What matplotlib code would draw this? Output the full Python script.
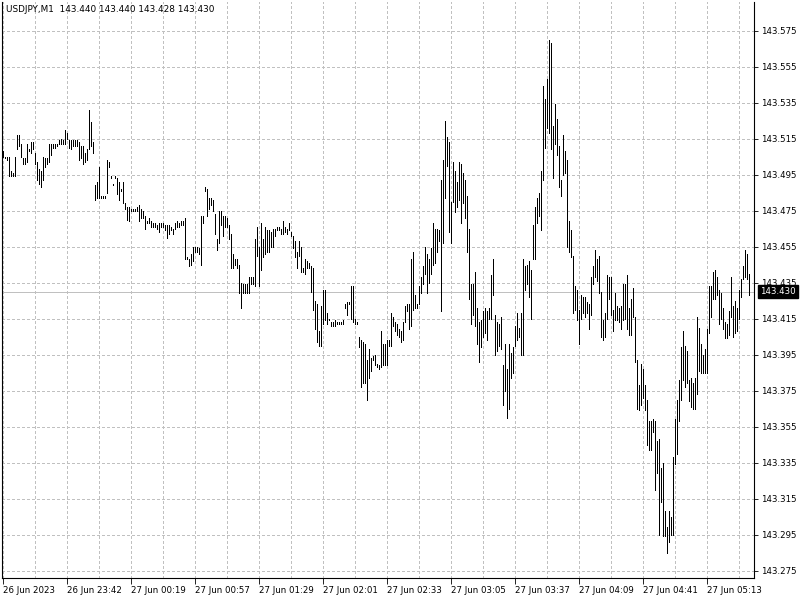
import numpy as np
import matplotlib
matplotlib.use('Agg')
import matplotlib.pyplot as plt
from matplotlib.transforms import blended_transform_factory

# dados do grafico (M1, USDJPY) - precos em pontos acima de 143.000
symbol = 'USDJPY,M1'
last_ohlc = [143.440, 143.440, 143.428, 143.430]
base_price = 143.0

high_points = [
    508, 505, 505, 505, 497, 496, 505, 517, 517, 512,
    504, 504, 512, 509, 513, 513, 507, 502, 498, 497,
    505, 504, 504, 512, 512, 512, 512, 512, 514, 515,
    514, 520, 518, 514, 514, 514, 514, 514, 513, 511,
    511, 507, 509, 531, 524, 513, 489, 491, 499, 483,
    483, 483, 503, 502, 494, 490, 494, 493, 491, 487,
    491, 479, 477, 477, 476, 476, 476, 477, 478, 476,
    475, 472, 469, 471, 469, 468, 468, 467, 468, 468,
    468, 467, 467, 467, 466, 465, 468, 469, 468, 469,
    469, 471, 449, 448, 451, 455, 455, 455, 454, 472,
    472, 488, 487, 482, 482, 481, 473, 459, 475, 475,
    472, 472, 471, 467, 462, 451, 448, 448, 445, 435,
    434, 434, 434, 438, 438, 438, 459, 466, 455, 468,
    459, 466, 464, 464, 463, 465, 465, 466, 466, 465,
    469, 466, 465, 468, 463, 461, 458, 452, 458, 455,
    443, 448, 447, 446, 444, 443, 425, 423, 408, 422,
    431, 431, 418, 415, 413, 413, 414, 413, 413, 413,
    414, 423, 424, 424, 433, 433, 415, 413, 405, 403,
    402, 401, 392, 398, 393, 394, 395, 390, 389, 408,
    401, 401, 403, 403, 418, 416, 413, 412, 409, 408,
    413, 422, 423, 423, 448, 452, 428, 423, 433, 438,
    444, 455, 451, 448, 454, 468, 465, 465, 464, 492,
    503, 525, 516, 513, 480, 502, 497, 491, 502, 501,
    496, 492, 483, 465, 434, 434, 441, 421, 413, 414,
    419, 421, 419, 421, 439, 448, 417, 413, 412, 416,
    389, 401, 387, 401, 396, 399, 411, 418, 410, 418,
    448, 444, 445, 447, 442, 467, 477, 482, 485, 497,
    544, 537, 548, 570, 568, 522, 534, 526, 511, 492,
    517, 508, 503, 469, 464, 450, 433, 431, 420, 428,
    427, 427, 424, 423, 438, 444, 453, 448, 450, 430,
    414, 418, 439, 438, 438, 420, 429, 422, 421, 422,
    434, 434, 439, 421, 426, 432, 416, 392, 378, 390,
    387, 378, 370, 358, 358, 359, 358, 347, 348, 332,
    335, 308, 299, 308, 305, 338, 359, 370, 381, 399,
    408, 400, 397, 381, 382, 379, 382, 416, 410, 401,
    395, 398, 409, 433, 433, 441, 442, 438, 431, 429,
    421, 413, 412, 419, 438, 422, 425, 421, 431, 437,
    444, 453, 451, 440,
]

low_points = [
    505, 504, 503, 494, 494, 494, 494, 509, 511, 505,
    501, 501, 502, 508, 507, 509, 501, 492, 490, 488,
    492, 499, 501, 502, 506, 510, 510, 511, 512, 512,
    512, 512, 515, 510, 509, 511, 511, 511, 503, 504,
    501, 502, 503, 509, 511, 507, 481, 482, 482, 482,
    482, 482, 485, 499, 493, 489, 493, 484, 481, 486,
    479, 476, 470, 469, 475, 475, 475, 475, 469, 471,
    471, 465, 468, 468, 466, 466, 466, 465, 463, 466,
    466, 464, 460, 462, 464, 462, 465, 466, 466, 467,
    467, 448, 448, 444, 445, 447, 452, 452, 451, 445,
    468, 486, 472, 476, 478, 475, 462, 453, 457, 467,
    461, 466, 466, 459, 443, 443, 445, 443, 429, 421,
    429, 429, 429, 429, 434, 434, 433, 450, 433, 442,
    449, 451, 452, 452, 455, 455, 461, 464, 464, 462,
    462, 463, 462, 464, 461, 454, 449, 443, 450, 441,
    441, 440, 443, 443, 430, 420, 409, 402, 400, 400,
    412, 414, 412, 414, 411, 411, 411, 412, 412, 412,
    412, 421, 417, 423, 415, 413, 412, 412, 399, 377,
    379, 379, 370, 382, 386, 392, 389, 388, 387, 388,
    389, 389, 389, 400, 400, 411, 408, 406, 405, 402,
    403, 413, 419, 409, 411, 420, 421, 421, 423, 429,
    434, 440, 429, 435, 440, 445, 446, 452, 458, 419,
    457, 482, 500, 463, 457, 480, 474, 477, 481, 468,
    479, 471, 452, 426, 412, 417, 411, 401, 391, 399,
    405, 407, 403, 415, 415, 428, 395, 397, 400, 398,
    367, 375, 360, 365, 382, 385, 400, 403, 405, 395,
    395, 431, 434, 427, 415, 448, 448, 468, 472, 464,
    492, 510, 521, 518, 509, 493, 512, 506, 488, 483,
    495, 496, 455, 452, 449, 418, 420, 414, 401, 415,
    418, 416, 418, 409, 417, 434, 438, 436, 429, 405,
    403, 405, 415, 426, 417, 408, 414, 414, 413, 409,
    414, 415, 409, 406, 406, 416, 391, 365, 364, 367,
    371, 364, 345, 342, 342, 352, 320, 329, 295, 313,
    294, 294, 285, 291, 295, 295, 334, 340, 358, 370,
    381, 377, 379, 369, 366, 365, 365, 373, 386, 385,
    385, 385, 385, 407, 416, 426, 426, 428, 412, 415,
    409, 404, 404, 406, 416, 405, 407, 408, 415, 427,
    437, 438, 437, 428,
]

time_labels = ['26 Jun 2023', '26 Jun 23:42', '27 Jun 00:19', '27 Jun 00:57',
               '27 Jun 01:29', '27 Jun 02:01', '27 Jun 02:33', '27 Jun 03:05',
               '27 Jun 03:37', '27 Jun 04:09', '27 Jun 04:41', '27 Jun 05:13']
label_step = 32  # barras entre rotulos de tempo
price_ticks = np.round(np.arange(143.275, 143.5751, 0.02), 3)

highs = base_price + np.array(high_points) / 1000
lows = base_price + np.array(low_points) / 1000
bars = np.arange(len(highs))

fig = plt.figure(figsize=(8, 6), dpi=100)
ax = fig.add_axes([2 / 800, 22 / 600, 752 / 800, 576 / 600])

# barras OHLC (so maxima/minima visiveis nesta escala)
ax.vlines(bars, lows, highs, colors='black', linewidth=0.5,
          antialiased=False, zorder=3)
# linha do preco atual
ax.axhline(last_ohlc[3], color='#c0c0c0', linewidth=0.5,
           antialiased=False, zorder=2)

ax.set_xlim(-0.75, 375.25)
ax.set_ylim(143.27094, 143.59094)

ax.set_xticks(np.arange(len(time_labels)) * label_step)
ax.set_xticklabels(time_labels, ha='left')
ax.set_xticks(np.arange(0, 376, label_step // 2), minor=True)
ax.yaxis.tick_right()
ax.set_yticks(price_ticks)
ax.set_yticklabels(['%.3f' % p for p in price_ticks])

grid_kw = dict(color='#c0c0c0', linestyle=(0, (4.3, 4.3)), linewidth=0.5,
               antialiased=False)
ax.xaxis.grid(True, which='both', **grid_kw)
ax.yaxis.grid(True, which='major', **grid_kw)
ax.set_axisbelow(True)

ax.tick_params(axis='both', which='major', labelsize=6.2, colors='black',
               length=3, width=0.6, pad=2)
ax.tick_params(axis='x', which='major', length=4, pad=1.5)
ax.tick_params(axis='x', which='minor', length=0)

ax.spines['top'].set_visible(False)
for s in ['left', 'right', 'bottom']:
    ax.spines[s].set_linewidth(0.8)
    ax.spines[s].set_color('black')

# etiqueta do preco atual
trans = blended_transform_factory(ax.transAxes, ax.transData)
ax.text(1 + 6 / 752, last_ohlc[3], '%.3f' % last_ohlc[3], transform=trans,
        ha='left', va='center', color='white', fontsize=6.2, clip_on=False,
        zorder=10, bbox=dict(boxstyle='square,pad=0.25', fc='black', ec='black'))

# cabecalho
header = symbol + '  ' + ' '.join('%.3f' % v for v in last_ohlc)
fig.text(6 / 800, 1 - 10 / 600, header, fontsize=6.4, color='black',
         ha='left', va='center')

fig.savefig('out.png', dpi=100)
